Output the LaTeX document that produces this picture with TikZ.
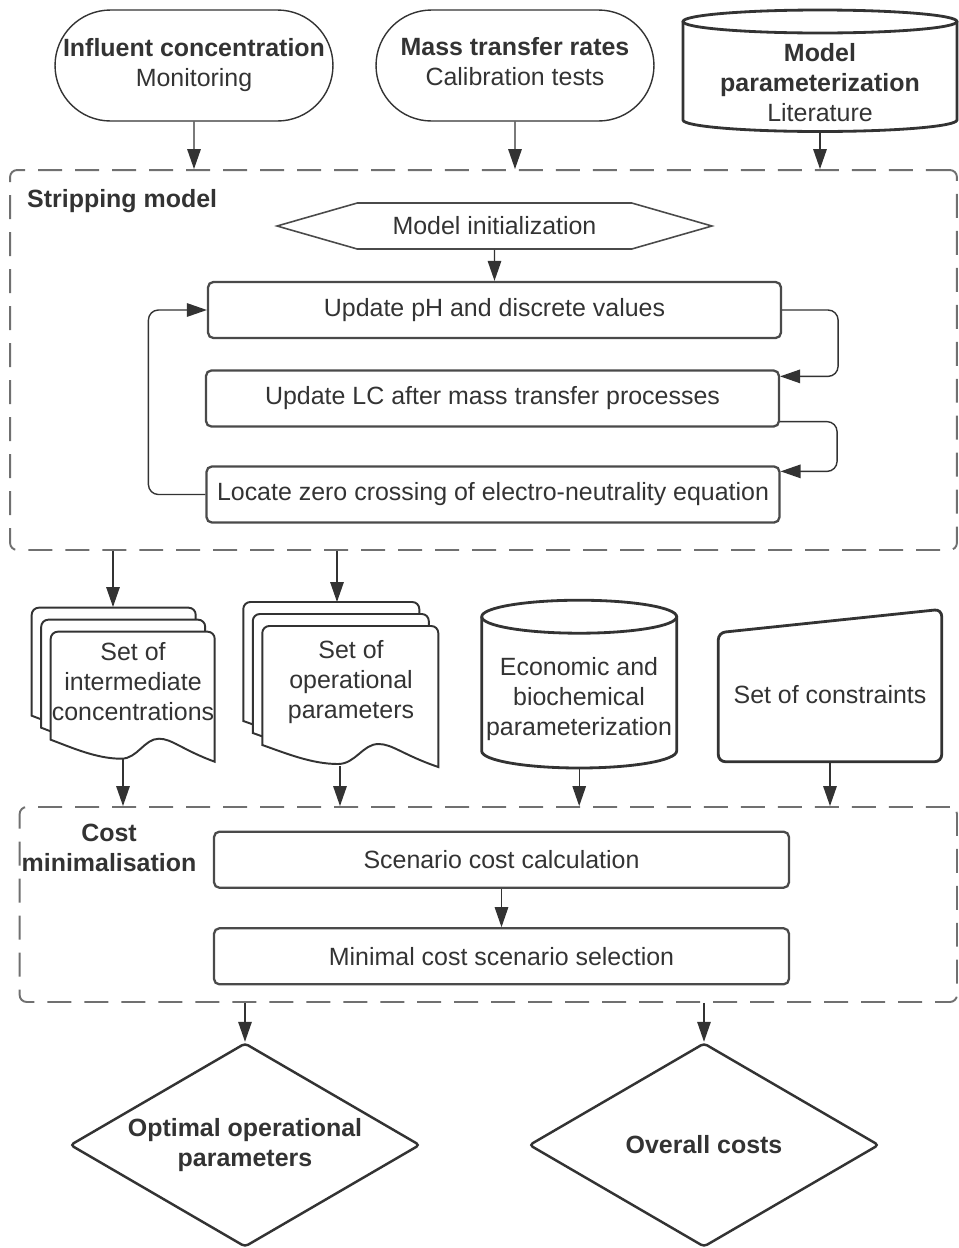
\documentclass[tikz,border=0pt]{standalone}
\usepackage{fontspec}
\setmainfont{Liberation Sans}
\usepackage{tikz}
\usetikzlibrary{arrows.meta,positioning,shapes.geometric,shapes.misc,shapes.symbols,calc}
\definecolor{ink}{HTML}{333333}
\definecolor{edge}{HTML}{4A4A4A}
\definecolor{frame}{HTML}{707070}
\tikzset{
  >={Triangle[length=4mm,width=2.7mm]},
  base/.style={font=\fontsize{14.2}{17.1}\selectfont, text=ink, align=center},
  lbl/.style={base, font=\fontsize{14.2}{17.1}\selectfont\bfseries},
  term/.style={base, draw=ink, line width=0.8pt, rounded rectangle, minimum width=5.56cm, minimum height=2.22cm, inner sep=0pt},
  proc/.style={base, draw=edge, line width=1.3pt, rounded corners=3pt, minimum width=11.46cm, minimum height=1.12cm, inner sep=0pt},
  prep/.style={base, draw=edge, line width=0.9pt, signal, signal to=west and east, signal pointer angle=32, minimum width=8.7cm, minimum height=0.92cm, inner sep=0pt},
  outp/.style={lbl, draw=ink, line width=1.4pt, diamond, aspect=1.7, minimum width=7cm, minimum height=4.08cm, inner sep=0pt, rounded corners=2pt},
  grp/.style={draw=frame, line width=1.1pt, dash pattern=on 0.48cm off 0.26cm, rounded corners=4pt},
  txt/.style={base},
  sheet/.style={draw=ink, line width=1.1pt, fill=white},
  dbase/.style={draw=ink, line width=1.6pt, fill=white},
  flow/.style={->, draw=ink, line width=0.8pt},
}

\begin{document}
\begin{tikzpicture}[x=0.02cm, y=-0.02cm]
  \useasboundingbox (0,0) rectangle (958,1248);

  % dashed groups
  \node[grp, minimum width=18.94cm, minimum height=7.6cm] (strip) at (483.5,360) {};
  \node[grp, minimum width=18.75cm, minimum height=3.9cm] (cost) at (488.3,904.5) {};
  \node[lbl, anchor=west] (striplbl) at (21,201) {Stripping model};
  \node[lbl] (costlbl) at (109,848) {Cost\\minimalisation};

  % inputs
  \node[term] (infl) at (194,65.5) {\textbf{Influent concentration}\\Monitoring};
  \node[term] (mtr) at (515,65.5) {\textbf{Mass transfer rates}\\Calibration tests\strut};
  \draw[dbase] (683,21.5) -- (683,120) arc[start angle=180, end angle=360, x radius=2.74cm, y radius=0.23cm] -- (957,21.5);
  \draw[dbase] (820,21.5) ellipse [x radius=2.74cm, y radius=0.23cm];
  \node[txt] (mpar) at (820,82.5) {\textbf{Model}\\\textbf{parameterization}\\Literature};
  \coordinate (mpar-b) at (820,131.5);

  % stripping model
  \node[prep] (init) at (494.5,226) {Model initialization};
  \node[proc] (upd) at (494.5,310) {Update pH and discrete values};
  \node[proc] (lc) at (492.5,398.5) {Update LC after mass transfer processes};
  \node[proc] (loc) at (493,494.5) {Locate zero crossing of electro-neutrality equation};

  \draw[flow] (infl) -- (infl |- strip.north);
  \draw[flow] (mtr) -- (mtr |- strip.north);
  \draw[flow] (mpar-b) -- (mpar-b |- strip.north);
  \draw[flow] (init) -- (upd);
  \draw[flow, rounded corners=0.2cm] (upd.east) -- ++(56,0) |- ([shift={(0,7)}]lc.north east);
  \draw[flow, rounded corners=0.2cm] ([shift={(0,-6)}]lc.south east) -- ++(57,0) |- ([shift={(0,6)}]loc.north east);
  \draw[flow, rounded corners=0.2cm] (loc.west) -- ++(-57,0) |- (upd.west);

  % intermediate results
  \foreach \x/\y/\w/\h in {50.7/631.7/164/108, 262.3/626/176/119}{
    \foreach \k in {2,1,0}{
      \begin{scope}[shift={({\x-9.5*\k},{\y-12*\k})}]
        \draw[sheet] (0,\h) [rounded corners=4pt] -- (0,0) -- (\w,0) [sharp corners] -- (\w,{\h+22})
          .. controls ({0.8*\w},{\h+10}) and ({0.74*\w},{\h-1}) .. ({0.66*\w},{\h-1})
          .. controls ({0.57*\w},{\h-1}) and ({0.53*\w},{\h+19}) .. ({0.43*\w},{\h+19})
          .. controls ({0.28*\w},{\h+19}) and ({0.13*\w},{\h+8}) .. (0,\h) -- cycle;
      \end{scope}
    }
  }
  \node[txt] (interm) at (133,682) {Set of\\intermediate\\concentrations};
  \node[txt] (opar) at (351,682) {Set of\\operational\\parameters};
  \coordinate (interm-t) at (113,607);
  \coordinate (interm-b) at (123,758);
  \coordinate (opar-t) at (337,602);
  \coordinate (opar-b) at (340,766);

  \draw[dbase] (481.7,616.7) -- (481.7,751) arc[start angle=180, end angle=360, x radius=1.95cm, y radius=0.34cm] -- (676.7,616.7);
  \draw[dbase] (579.2,616.7) ellipse [x radius=1.95cm, y radius=0.33cm];
  \node[txt] (econ) at (579,699) {Economic and\\biochemical\\parameterization};
  \coordinate (econ-b) at (579.2,768);

  \draw[dbase, rounded corners=4pt] (718.3,632.7) -- (941.7,609.3) -- (941.7,761.7) -- (718.3,761.7) -- cycle;
  \node[txt] (constr) at (830,695) {Set of constraints};
  \coordinate (constr-b) at (830,761.7);

  \draw[flow] (interm-t |- strip.south) -- (interm-t);
  \draw[flow] (opar-t |- strip.south) -- (opar-t);
  \draw[flow] (interm-b) -- (interm-b |- cost.north);
  \draw[flow] (opar-b) -- (opar-b |- cost.north);
  \draw[flow] (econ-b) -- (econ-b |- cost.north);
  \draw[flow] (constr-b) -- (constr-b |- cost.north);

  % cost minimalisation
  \node[proc, minimum width=11.5cm] (calc) at (501.5,859.7) {Scenario cost calculation};
  \node[proc, minimum width=11.5cm] (sel) at (501.5,956.3) {Minimal cost scenario selection};
  \draw[flow] (calc) -- (sel);

  % outputs
  \node[outp] (optp) at (245,1145) {Optimal operational\\parameters};
  \node[outp] (ovc) at (704,1145) {Overall costs};
  \draw[flow] (optp |- cost.south) -- (optp);
  \draw[flow] (ovc |- cost.south) -- (ovc);
\end{tikzpicture}
\end{document}
